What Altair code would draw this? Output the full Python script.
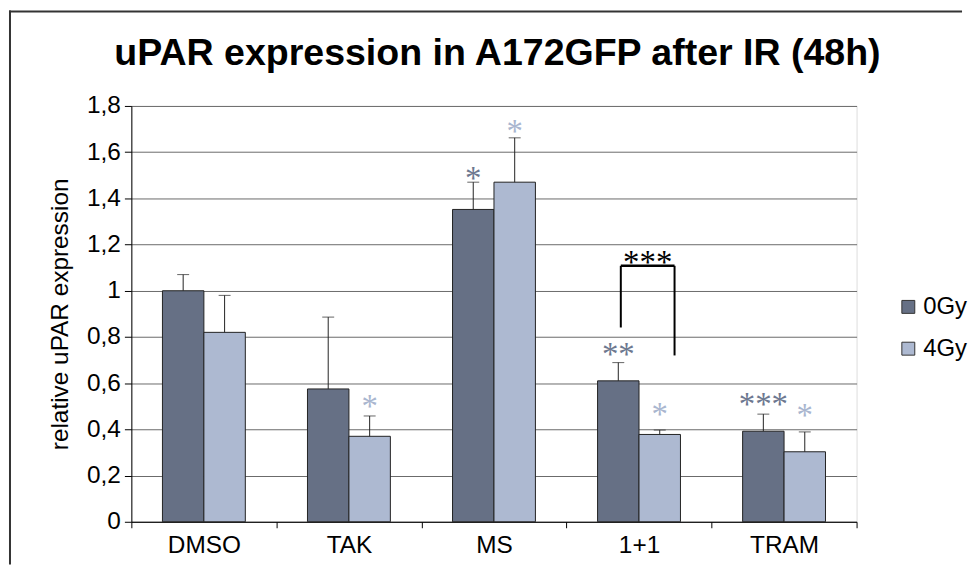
import altair as alt
import pandas as pd

# ---- data ----
categories = ["DMSO", "TAK", "MS", "1+1", "TRAM"]
groups = ["0Gy", "4Gy"]
values_0gy = [1.00, 0.575, 1.352, 0.61, 0.392]
values_4gy = [0.82, 0.37, 1.47, 0.378, 0.303]
err_top_0gy = [1.07, 0.886, 1.47, 0.689, 0.466]
err_top_4gy = [0.98, 0.458, 1.662, 0.397, 0.389]

star_categories = ["TAK", "MS", "MS", "1+1", "1+1", "TRAM", "TRAM"]
star_groups = ["4Gy", "0Gy", "4Gy", "0Gy", "4Gy", "0Gy", "4Gy"]
star_labels = ["*", "*", "*", "**", "*", "***", "*"]
star_y = [0.531, 1.517, 1.723, 0.756, 0.498, 0.541, 0.491]

bracket_category = ["1+1"]
bracket_left_low = [0.841]
bracket_right_low = [0.72]
bracket_top = [1.108]
bracket_label = ["***"]
bracket_label_y = [1.156]

y_ticks = [0, 0.2, 0.4, 0.6, 0.8, 1.0, 1.2, 1.4, 1.6, 1.8]
title_text = ["uPAR expression in A172GFP after IR (48h)"]

colors = ["#667085", "#adb9d1"]
star_colors = {"0Gy": "#6d7890", "4Gy": "#a9b6cf"}

FONT = "Liberation Sans"
STAR_FONT = "Liberation Serif"
STAR_SIZE = 33
STAR_DY = 18
W, H = 729, 418

# ---- tables ----
rows = []
for i, c in enumerate(categories):
    rows.append({"category": c, "group": "0Gy", "value": values_0gy[i], "err": err_top_0gy[i]})
    rows.append({"category": c, "group": "4Gy", "value": values_4gy[i], "err": err_top_4gy[i]})
bars_df = pd.DataFrame(rows)

stars_df = pd.DataFrame({"category": star_categories, "group": star_groups,
                         "label": star_labels, "y": star_y})
bracket_df = pd.DataFrame({"category": bracket_category, "low_l": bracket_left_low,
                           "low_r": bracket_right_low, "top": bracket_top,
                           "label": bracket_label, "ly": bracket_label_y})
title_df = pd.DataFrame({"t": title_text})

x_scale = alt.Scale(domain=categories, paddingInner=0, paddingOuter=0)
y_scale = alt.Scale(domain=[0, 1.8], nice=False, zero=True)
xo = alt.XOffset("group:N", sort=groups, scale=alt.Scale(domain=groups, paddingInner=0, paddingOuter=0.75))

x_enc = alt.X("category:N", sort=categories, scale=x_scale,
              axis=alt.Axis(title=None, labelAngle=0, tickBand="extent", tickSize=6,
                            tickColor="black", domainColor="black", labelColor="black",
                            labelFont=FONT, labelFontSize=24.5, labelPadding=6, grid=False))
y_enc = alt.Y("value:Q", scale=y_scale,
              axis=alt.Axis(values=y_ticks, title="relative uPAR expression",
                            labelExpr="replace(format(datum.value, '~g'), '.', ',')",
                            grid=True, gridColor="#6a6a6a", gridWidth=1,
                            domainColor="black", tickColor="black", tickSize=7,
                            labelColor="black", labelFont=FONT, labelFontSize=24.5, labelPadding=4,
                            titleFont=FONT, titleFontSize=24.5, titleFontWeight="normal",
                            titleColor="black", titlePadding=14))

bars = alt.Chart(bars_df).mark_bar(stroke="#222222", strokeWidth=1).encode(
    x=x_enc, xOffset=xo, y=y_enc,
    color=alt.Color("group:N", sort=groups, scale=alt.Scale(domain=groups, range=colors),
                    legend=alt.Legend(title=None, orient="none", legendX=769, legendY=190,
                                      symbolType="square", symbolSize=169,
                                      symbolStrokeColor="#333333", symbolStrokeWidth=1,
                                      labelFont=FONT, labelFontSize=24, labelColor="black",
                                      labelOffset=3, rowPadding=18, padding=0)),
)

err_line = alt.Chart(bars_df).mark_rule(color="#222222", strokeWidth=1).encode(
    x=alt.X("category:N", sort=categories), xOffset=xo,
    y=alt.Y("value:Q"), y2="err:Q")
err_cap = alt.Chart(bars_df).mark_tick(color="#222222", thickness=1, size=12, orient="horizontal").encode(
    x=alt.X("category:N", sort=categories), xOffset=xo, y=alt.Y("err:Q"))

star_layers = []
for g in groups:
    star_layers.append(
        alt.Chart(stars_df).transform_filter(alt.datum.group == g).mark_text(
            font=STAR_FONT, fontSize=STAR_SIZE, color=star_colors[g],
            baseline="alphabetic", dy=STAR_DY, align="center").encode(
            x=alt.X("category:N", sort=categories), xOffset=xo,
            y=alt.Y("y:Q"), text="label:N"))

br_left = alt.Chart(bracket_df).mark_rule(color="black", strokeWidth=2).encode(
    x=alt.X("category:N", bandPosition=0.3745), y=alt.Y("low_l:Q"), y2="top:Q")
br_right = alt.Chart(bracket_df).mark_rule(color="black", strokeWidth=2).encode(
    x=alt.X("category:N", bandPosition=0.745), y=alt.Y("low_r:Q"), y2="top:Q")
br_top = alt.Chart(bracket_df).mark_rule(color="black", strokeWidth=2.5).encode(
    x=alt.X("category:N", bandPosition=0.3745), x2=alt.X2("category:N", bandPosition=0.745),
    y=alt.Y("top:Q"))
br_text = alt.Chart(bracket_df).mark_text(
    font=STAR_FONT, fontSize=STAR_SIZE, color="black", baseline="alphabetic", dy=STAR_DY).encode(
    x=alt.X("category:N", bandPosition=0.56), y=alt.Y("ly:Q"), text="label:N")

title = alt.Chart(title_df).mark_text(
    font=FONT, fontSize=37.7, fontWeight="bold", color="black", align="center",
    baseline="alphabetic").encode(x=alt.value(368), y=alt.value(-41), text="t:N")

border_left = alt.Chart(title_df).mark_rule(color="#333333", strokeWidth=2).encode(
    x=alt.value(-122), y=alt.value(-96), y2=alt.value(461))
border_top = alt.Chart(title_df).mark_rule(color="#333333", strokeWidth=2).encode(
    x=alt.value(-123), x2=alt.value(835), y=alt.value(-95))

chart = alt.layer(
    bars, err_line, err_cap, *star_layers, br_left, br_right, br_top, br_text,
    title, border_left, border_top
).properties(width=W, height=H, padding=0).configure_view(stroke=None).configure(background="white")

chart.save("out.html", embed_options={"renderer": "svg", "actions": False})
